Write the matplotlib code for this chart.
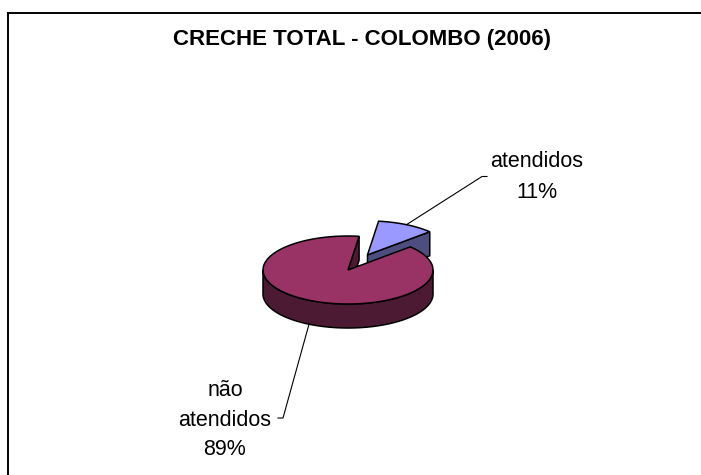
import numpy as np
import matplotlib
matplotlib.use("Agg")
import matplotlib.pyplot as plt
from matplotlib.patches import Polygon

# ---- data ----
title = "CRECHE TOTAL - COLOMBO (2006)"
labels = ["atendidos", "não atendidos"]
values = [11, 89]
top_colors = ["#9999FF", "#993366"]
side_colors = ["#4D4D80", "#4D1A33"]
explode = [0.5, 0.0]

# ---- layout ----
W, H = 701, 475
fig = plt.figure(figsize=(W / 100, H / 100), dpi=100)
ax = fig.add_axes([0, 0, 1, 1])
ax.set_xlim(0, W)
ax.set_ylim(H, 0)
ax.axis("off")
plt.rcParams['font.family'] = ['Liberation Sans', 'DejaVu Sans']

cx, cy, rx, ry, depth = 348, 270, 85, 34, 24
start = 82.5
lw = 1.1

total = float(sum(values))
angles = []
a = start
for v in values:
    span = 360.0 * v / total
    angles.append((a - span, a))
    a -= span


def pt(theta, r, off, dz=0.0):
    t = np.deg2rad(theta)
    return (cx + off[0] + r * rx * np.cos(t), cy + off[1] - r * ry * np.sin(t) + dz)


def arc(t0, t1, off, dz=0.0, n=120):
    ts = np.linspace(t0, t1, n)
    return [pt(t, 1.0, off, dz) for t in ts]


def offset(i):
    a0, a1 = angles[i]
    mid = np.deg2rad((a0 + a1) / 2)
    return (explode[i] * rx * np.cos(mid), -explode[i] * ry * np.sin(mid))


def draw_slice(i, z):
    a0, a1 = angles[i]
    off = offset(i)
    # radial faces (visible when their outward normal points to the viewer)
    for edge, normal in ((a0, a0 - 90), (a1, a1 + 90)):
        if np.sin(np.deg2rad(normal)) < 0:
            poly = [pt(0, 0, off), pt(edge, 1, off), pt(edge, 1, off, depth), pt(0, 0, off, depth)]
            ax.add_patch(Polygon(poly, closed=True, fc=side_colors[i], ec="black", lw=lw, zorder=z))
    # outer front side wall
    for k in range(-2, 2):
        f0, f1 = 180 + 360 * k, 360 + 360 * k
        s0, s1 = max(a0, f0), min(a1, f1)
        if s1 > s0:
            top = arc(s0, s1, off)
            bot = arc(s1, s0, off, depth)
            ax.add_patch(Polygon(top + bot, closed=True, fc=side_colors[i], ec="black", lw=lw, zorder=z + 0.1))
    # top face
    poly = [pt(0, 0, off)] + arc(a0, a1, off)
    ax.add_patch(Polygon(poly, closed=True, fc=top_colors[i], ec="black", lw=lw, zorder=z + 0.2))


draw_slice(0, 2)
draw_slice(1, 3)

# ---- labels with leader lines ----
pct = [f"{round(100 * v / total):.0f}%" for v in values]

# atendidos
off0 = offset(0)
mid0 = sum(angles[0]) / 2
anc0 = pt(mid0, 1.0, off0)
ax.plot([anc0[0], 482, 487], [anc0[1], 176.5, 176.5], color="black", lw=0.8, zorder=5)
ax.text(537, 177, f"{labels[0]}\n{pct[0]}", ha="center", va="center",
        fontsize=15.5, linespacing=1.62, zorder=6)

# não atendidos
mid1 = sum(angles[1]) / 2
anc1 = pt(mid1, 1.0, offset(1), depth)
ax.plot([anc1[0], 283, 278], [anc1[1], 418, 418], color="black", lw=0.8, zorder=5)
ax.text(225, 420, labels[1].replace(" ", "\n") + f"\n{pct[1]}", ha="center", va="center",
        fontsize=15.5, linespacing=1.52, zorder=6)

# title
ax.text(362, 40, title, ha="center", va="center", fontsize=16, fontweight="bold", zorder=6)

# chart frame (top and left edges visible)
ax.plot([7.5, W + 5], [12.5, 12.5], color="black", lw=1.4, zorder=7, clip_on=False)
ax.plot([7.5, 7.5], [12.5, H + 5], color="black", lw=1.4, zorder=7, clip_on=False)

fig.savefig("out.png", dpi=100)
